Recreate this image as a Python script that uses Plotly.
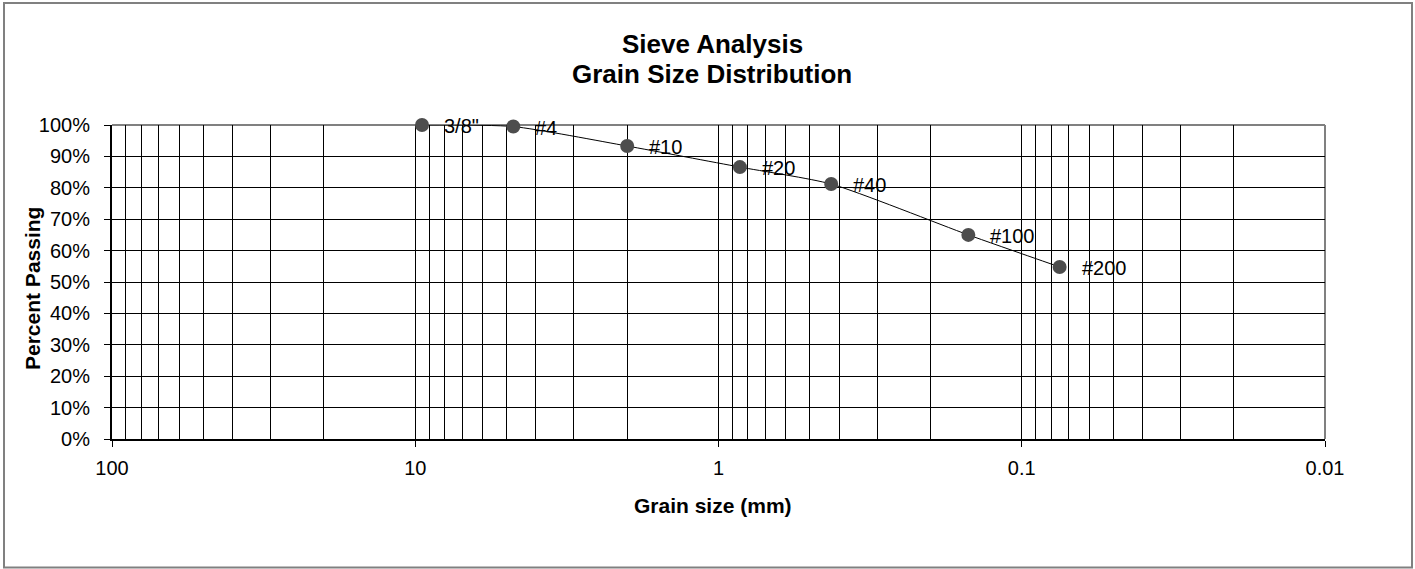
import math
import plotly.graph_objects as go

# Data
sieves = ['3/8"', '#4', '#10', '#20', '#40', '#100', '#200']
grain_size_mm = [9.5, 4.75, 2.0, 0.85, 0.425, 0.15, 0.075]
percent_passing = [100.0, 99.5, 93.3, 86.6, 81.2, 65.0, 54.8]
x_tick_vals = [100, 10, 1, 0.1, 0.01]
x_tick_text = ["100", "10", "1", "0.1", "0.01"]
y_tick_vals = [0, 10, 20, 30, 40, 50, 60, 70, 80, 90, 100]
y_tick_text = ["0%", "10%", "20%", "30%", "40%", "50%", "60%", "70%", "80%", "90%", "100%"]

W, H = 1415, 569
L, R, T, B = 112, 90, 125, 130
pw, ph = W - L - R, H - T - B

FONT = "Liberation Sans, Arial, sans-serif"


def px_x(p):
    return (p - L) / pw


def px_y(p):
    return (H - B - p) / ph


fig = go.Figure()
fig.add_trace(go.Scatter(
    x=grain_size_mm, y=percent_passing,
    mode="lines+markers",
    line=dict(color="black", width=1, shape="spline", smoothing=0.6),
    marker=dict(color="#4d4d4d", size=14, line=dict(width=0)),
    cliponaxis=False,
    hoverinfo="x+y", showlegend=False,
))

for s, x, y in zip(sieves, grain_size_mm, percent_passing):
    fig.add_annotation(x=math.log10(x), y=y, xref="x", yref="y", text=s, showarrow=False,
                       xanchor="left", yanchor="middle", xshift=20, yshift=-1,
                       font=dict(family=FONT, size=20, color="black"))

# Title lines and axis titles
fig.add_annotation(xref="paper", yref="paper", x=px_x(712), y=px_y(44),
                   text="<b>Sieve Analysis</b>", showarrow=False,
                   xanchor="center", yanchor="middle",
                   font=dict(family=FONT, size=26, color="black"))
fig.add_annotation(xref="paper", yref="paper", x=px_x(712), y=px_y(74),
                   text="<b>Grain Size Distribution</b>", showarrow=False,
                   xanchor="center", yanchor="middle",
                   font=dict(family=FONT, size=26, color="black"))
fig.add_annotation(xref="paper", yref="paper", x=px_x(713), y=px_y(505),
                   text="<b>Grain size (mm)</b>", showarrow=False,
                   xanchor="center", yanchor="middle",
                   font=dict(family=FONT, size=21, color="black"))
fig.add_annotation(xref="paper", yref="paper", x=px_x(32), y=px_y(289),
                   text="<b>Percent Passing</b>", showarrow=False, textangle=-90,
                   xanchor="center", yanchor="middle",
                   font=dict(family=FONT, size=21, color="black"))

shapes = [
    # outer chart border
    dict(type="rect", xref="paper", yref="paper",
         x0=px_x(4), x1=px_x(1412), y0=px_y(567.5), y1=px_y(3),
         line=dict(color="#808080", width=2), layer="below"),
    # plot area border top & right
    dict(type="line", xref="paper", yref="paper", x0=0, x1=1, y0=1, y1=1,
         line=dict(color="#808080", width=2), layer="below"),
    dict(type="line", xref="paper", yref="paper", x0=1, x1=1, y0=0, y1=1,
         line=dict(color="#808080", width=2), layer="below"),
]

fig.update_layout(
    width=W, height=H,
    margin=dict(l=L, r=R, t=T, b=B, autoexpand=False),
    paper_bgcolor="white", plot_bgcolor="white",
    font=dict(family=FONT, size=20, color="black"),
    shapes=shapes,
)

fig.update_xaxes(
    type="log", range=[2, -2],
    tickmode="array", tickvals=x_tick_vals, ticktext=x_tick_text,
    ticks="outside", ticklen=6, tickcolor="black", tickwidth=1,
    ticklabelstandoff=4,
    showgrid=True, gridcolor="black", gridwidth=1,
    minor=dict(dtick="D1", showgrid=True, gridcolor="black", gridwidth=1, ticks=""),
    showline=True, linecolor="black", linewidth=2,
    zeroline=False,
    tickfont=dict(family=FONT, size=20),
)

fig.update_yaxes(
    range=[0, 100], tickmode="array", tickvals=y_tick_vals, ticktext=y_tick_text,
    ticks="outside", ticklen=6, tickcolor="black", tickwidth=1,
    ticklabelstandoff=10,
    showgrid=True, gridcolor="black", gridwidth=1,
    showline=True, linecolor="black", linewidth=2,
    zeroline=False,
    tickfont=dict(family=FONT, size=20),
)

fig.write_html("out.html", config={"displayModeBar": False},
               post_script="document.body.style.margin='0';document.body.style.padding='0';")
